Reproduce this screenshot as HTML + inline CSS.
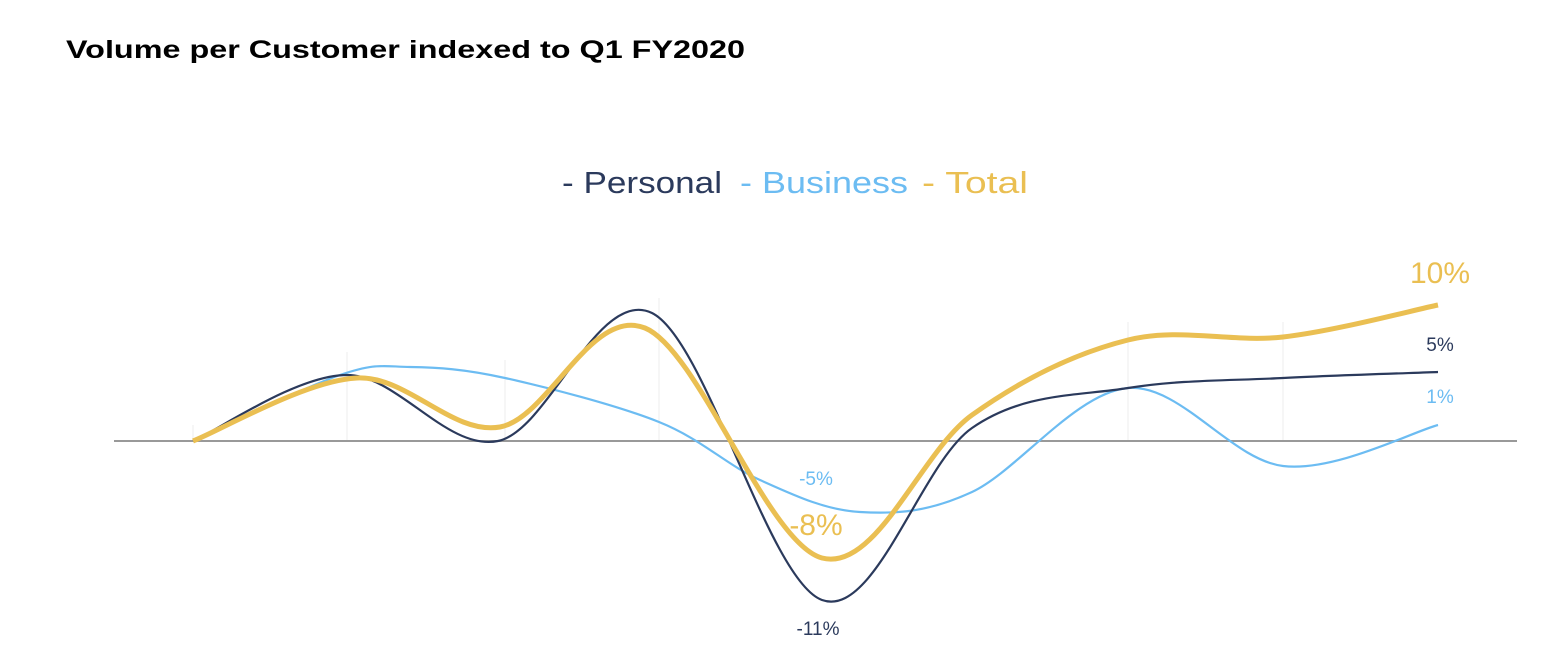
<!DOCTYPE html>
<html><head><meta charset="utf-8"><style>
html,body{margin:0;padding:0;background:#fff;width:1550px;height:660px;overflow:hidden}
svg{display:block}
</style></head><body>
<svg id="s" width="1550" height="660" xmlns="http://www.w3.org/2000/svg">
<text x="66" y="58" font-family="Liberation Sans, sans-serif" font-weight="bold" font-size="25" fill="#000" textLength="679" lengthAdjust="spacingAndGlyphs">Volume per Customer indexed to Q1 FY2020</text>
<g font-family="Liberation Sans, sans-serif" font-size="31">
<text x="562" y="193" fill="#2b3a5c" textLength="160" lengthAdjust="spacingAndGlyphs">- Personal</text>
<text x="740" y="193" fill="#6cbcf2" textLength="168" lengthAdjust="spacingAndGlyphs">- Business</text>
<text x="922" y="193" fill="#eabf52" textLength="106" lengthAdjust="spacingAndGlyphs">- Total</text>
</g>
<g stroke="#eeeeee" stroke-width="1">
<line x1="193" y1="425" x2="193" y2="441"/><line x1="347" y1="352" x2="347" y2="441"/>
<line x1="505" y1="360" x2="505" y2="441"/><line x1="659" y1="298" x2="659" y2="441"/>
<line x1="1128" y1="322" x2="1128" y2="441"/><line x1="1283" y1="322" x2="1283" y2="441"/>
</g>
<line x1="114" y1="441" x2="1517" y2="441" stroke="#999" stroke-width="2"/>
<path id="b" fill="none" stroke="#6cbcf2" stroke-width="2.2"/>
<path id="p" fill="none" stroke="#2b3a5c" stroke-width="2.2"/>
<path id="t" fill="none" stroke="#eabf52" stroke-width="5"/>
<g font-family="Liberation Sans, sans-serif" text-anchor="middle">
<text x="1440" y="283" font-size="30" fill="#eabf52">10%</text>
<text x="1440" y="351" font-size="19" fill="#2b3a5c">5%</text>
<text x="1440" y="403" font-size="19" fill="#6cbcf2">1%</text>
<text x="816" y="485" font-size="19" fill="#6cbcf2">-5%</text>
<text x="816" y="535" font-size="30" fill="#eabf52">-8%</text>
<text x="818" y="635" font-size="19" fill="#2b3a5c">-11%</text>
</g>
</svg>
<script>
function cr(pts){let d="M"+pts[0][0]+","+pts[0][1];for(let i=0;i<pts.length-1;i++){const p0=pts[i-1]||pts[i],p1=pts[i],p2=pts[i+1],p3=pts[i+2]||p2;const c1=[p1[0]+(p2[0]-p0[0])/6,p1[1]+(p2[1]-p0[1])/6],c2=[p2[0]-(p3[0]-p1[0])/6,p2[1]-(p3[1]-p1[1])/6];d+=" C"+c1+" "+c2+" "+p2;}return d;}
document.getElementById("p").setAttribute("d",cr([[193,441],[347,375],[498,441],[652,313],[822,600],[972,428],[1128,388],[1283,378],[1438,372]]));
document.getElementById("b").setAttribute("d",cr([[193,441],[340,375],[410,367],[505,378],[659,422],[760,480],[860,512],[972,492],[1128,388],[1283,466],[1438,425]]));
document.getElementById("t").setAttribute("d",cr([[193,441],[357,378],[500,427],[645,328],[822,558],[972,415],[1128,340],[1283,337],[1438,305]]));
</script>
</body></html>
